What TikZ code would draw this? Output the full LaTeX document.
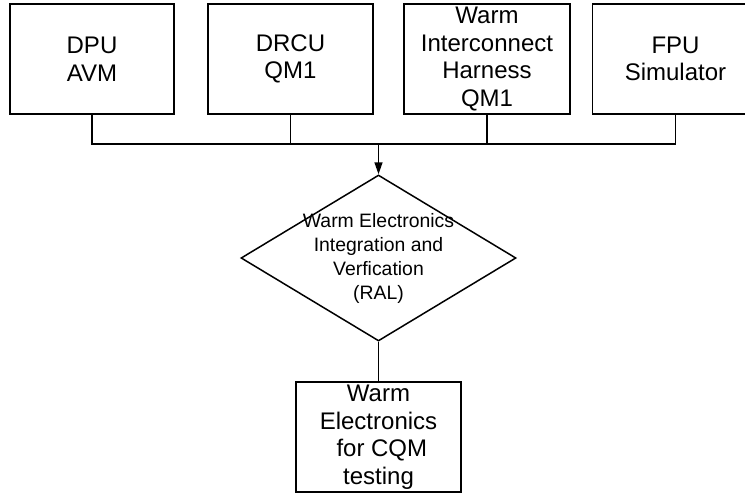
\documentclass[tikz,border=0pt]{standalone}
\usepackage{fontspec}
\setmainfont{Liberation Sans}
\usetikzlibrary{shapes.geometric,arrows.meta}
\tikzset{
  unitbox/.style={draw, line width=1.5pt, inner sep=0pt, align=center,
    font=\fontsize{24}{27.5}\selectfont},
  decision/.style={draw, diamond, line width=1.5pt, inner sep=0pt,
    minimum width=275pt, minimum height=166pt},
  decisiontext/.style={align=center, inner sep=0pt,
    font=\fontsize{19.4}{24}\selectfont},
  wire/.style={line width=1.5pt},
  feed/.style={line width=1.5pt, -{Triangle[length=12pt,width=8pt]}}
}
\begin{document}
\begin{tikzpicture}[x=1pt,y=-1pt]
  \useasboundingbox[fill=white] (0,0) rectangle (745,495);

  % units feeding the integration step
  \node[unitbox, minimum width=164pt, minimum height=110pt] (dpu) at (92,59) {DPU\\AVM};
  \node[unitbox, minimum width=165pt, minimum height=110pt] (drcu) at (290.5,59) {DRCU\\QM1};
  \node[unitbox, minimum width=166pt, minimum height=110pt] (wih) at (487,59) {Warm\\Interconnect\\Harness\\QM1};
  \node[unitbox, minimum width=166pt, minimum height=110pt] (fpu) at (675.5,59) {FPU\\Simulator};

  % integration and verification step
  \node[decision] (wei) at (378.5,258) {};
  \node[decisiontext] (weitxt) at (wei.center) {Warm Electronics\\Integration and\\Verfication\\(RAL)};

  % delivered result
  \node[unitbox, minimum width=165pt, minimum height=110pt] (cqm) at (378.5,437) {Warm\\Electronics\\\ for CQM\\testing};

  % common bus
  \coordinate (bus) at (378.5,144);
  \draw[wire] (dpu.south) |- (bus) -| (fpu.south);
  \draw[wire] (drcu.south) -- (drcu.south |- bus);
  \draw[wire] (wih.south) -- (wih.south |- bus);
  \draw[feed] (bus) -- (wei.north);
  \draw[wire] (wei.south) -- (cqm.north);
\end{tikzpicture}
\end{document}
